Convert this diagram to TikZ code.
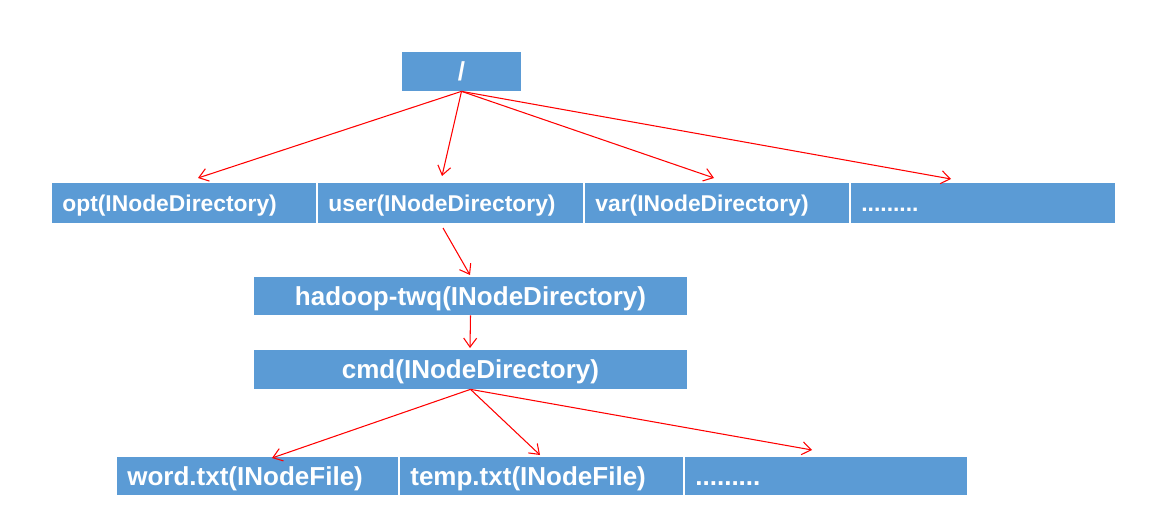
\documentclass[tikz,border=0pt]{standalone}
\usepackage{fontspec}
\setmainfont{Liberation Sans}
\usetikzlibrary{arrows.meta}
\definecolor{boxblue}{HTML}{5B9BD5}
\begin{document}
\begin{tikzpicture}[
    box/.style={fill=boxblue, text=white, inner sep=0pt, text depth=0pt,
        text height=10.8pt, font=\bfseries\fontsize{14.8}{17}\selectfont},
    cell/.style={box, anchor=west, text width=#1, align=left,
        inner xsep=0.2cm},
    small/.style={text height=9.5pt, font=\bfseries\fontsize{13}{15}\selectfont},
    link/.style={draw=red, line width=0.6pt,
        -{Straight Barb[length=1.8mm, width=2.6mm]}}
]
    \useasboundingbox (0, 0) rectangle (23.1, -10.4);
    \node[box, minimum width=2.38cm, minimum height=0.78cm] (root) at(9.23, -1.43) {/};
    \node[cell=4.88cm, small, minimum height=0.8cm] (opt) at(1.04, -4.06) {opt(INodeDirectory)};
    \node[cell=4.90cm, small, minimum height=0.8cm] (user) at(6.36, -4.06) {user(INodeDirectory)};
    \node[cell=4.88cm, small, minimum height=0.8cm] (var) at(11.70, -4.06) {var(INodeDirectory)};
    \node[cell=4.88cm, small, minimum height=0.8cm] (more) at(17.02, -4.06) {.........};
    \node[box, minimum width=8.66cm, minimum height=0.76cm] (hadoop) at(9.41, -5.92) {hadoop-twq(INodeDirectory)};
    \node[box, minimum width=8.66cm, minimum height=0.78cm] (cmd) at(9.41, -7.39) {cmd(INodeDirectory)};
    \node[cell=5.22cm, minimum height=0.76cm] (word) at(2.34, -9.52) {word.txt(INodeFile)};
    \node[cell=5.26cm, minimum height=0.76cm] (temp) at(8.00, -9.52) {temp.txt(INodeFile)};
    \node[cell=5.24cm, minimum height=0.76cm] (files) at(13.70, -9.52) {.........};
    \coordinate (optTip) at (3.96, -3.56);
    \coordinate (userTip) at (8.84, -3.52);
    \coordinate (varTip) at (14.28, -3.56);
    \coordinate (moreTip) at (19.02, -3.58);
    \coordinate (userStart) at (8.86, -4.56);
    \coordinate (hadoopTip) at (9.40, -5.50);
    \coordinate (cmdTip) at (9.40, -6.96);
    \coordinate (wordTip) at (5.44, -9.16);
    \coordinate (tempTip) at (10.80, -9.10);
    \coordinate (filesTip) at (16.24, -9.00);
    \draw[link] (root.south) -- (optTip);
    \draw[link] (root.south) -- (userTip);
    \draw[link] (root.south) -- (varTip);
    \draw[link] (root.south) -- (moreTip);
    \draw[link] (userStart) -- (hadoopTip);
    \draw[link] (hadoop.south) -- (cmdTip);
    \draw[link] (cmd.south) -- (wordTip);
    \draw[link] (cmd.south) -- (tempTip);
    \draw[link] (cmd.south) -- (filesTip);
\end{tikzpicture}
\end{document}
